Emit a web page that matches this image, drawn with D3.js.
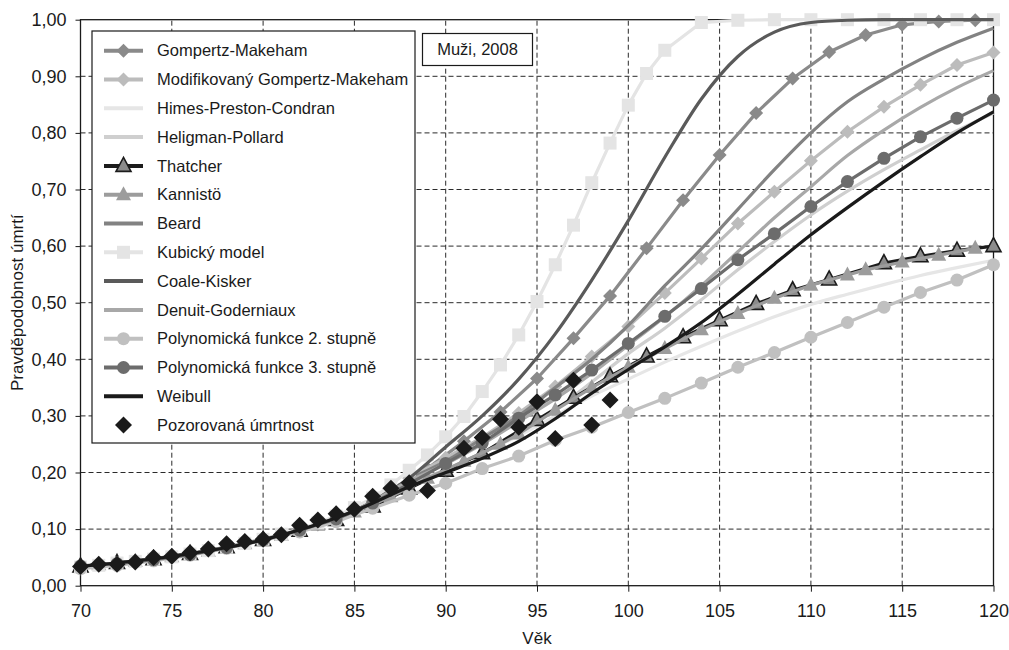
<!DOCTYPE html>
<html>
<head>
<meta charset="utf-8">
<script src="https://cdn.jsdelivr.net/npm/d3@7"></script>
<style>
  html, body { margin: 0; padding: 0; background: #fff; }
  svg { display: block; font-family: "Liberation Sans", Arial, sans-serif; }
</style>
</head>
<body>
<svg id="chart" width="1009" height="650"></svg>
<script>
// ---- data: probability of death by age, men, 2008 ----
const xTicks = [70, 75, 80, 85, 90, 95, 100, 105, 110, 115, 120];
const yTicks = [0, 0.1, 0.2, 0.3, 0.4, 0.5, 0.6, 0.7, 0.8, 0.9, 1.0];

// smooth model curves (no markers) share these ages
const lineAges = [70, 75, 80, 85, 88, 90, 92, 94, 96, 98, 100, 102, 104, 106, 108, 110, 112, 114, 116, 118, 120];
const himesPrestonCondran = [0.034, 0.052, 0.081, 0.132, 0.180, 0.205, 0.235, 0.265, 0.300, 0.335, 0.365, 0.395, 0.423, 0.450, 0.475, 0.497, 0.515, 0.532, 0.548, 0.562, 0.575];
const heligmanPollard = [0.034, 0.052, 0.081, 0.132, 0.180, 0.205, 0.235, 0.270, 0.310, 0.360, 0.410, 0.455, 0.505, 0.558, 0.608, 0.655, 0.697, 0.735, 0.770, 0.804, 0.835];
const beard = [0.034, 0.052, 0.081, 0.132, 0.188, 0.220, 0.260, 0.300, 0.350, 0.400, 0.460, 0.530, 0.595, 0.665, 0.735, 0.800, 0.855, 0.895, 0.930, 0.960, 0.985];
const coaleKisker = [0.034, 0.052, 0.081, 0.132, 0.190, 0.245, 0.300, 0.365, 0.445, 0.540, 0.645, 0.757, 0.860, 0.935, 0.978, 0.995, 0.999, 1.0, 1.0, 1.0, 1.0];
const denuitGoderniaux = [0.034, 0.052, 0.081, 0.132, 0.185, 0.215, 0.250, 0.290, 0.330, 0.375, 0.425, 0.475, 0.530, 0.590, 0.650, 0.705, 0.760, 0.805, 0.845, 0.880, 0.910];
const weibull = [0.034, 0.052, 0.081, 0.132, 0.175, 0.200, 0.225, 0.255, 0.295, 0.340, 0.382, 0.422, 0.465, 0.515, 0.568, 0.620, 0.668, 0.714, 0.758, 0.800, 0.837];

// model curves with markers
const gmAges = [71, 73, 75, 77, 79, 81, 83, 85, 87, 89, 91, 93, 95, 97, 99, 101, 103, 105, 107, 109, 111, 113, 115, 117, 119];
const gompertzMakeham = [0.037, 0.044, 0.052, 0.062, 0.075, 0.090, 0.108, 0.132, 0.165, 0.207, 0.255, 0.307, 0.366, 0.437, 0.512, 0.596, 0.681, 0.761, 0.835, 0.896, 0.943, 0.973, 0.991, 0.997, 0.999];

const evenAges = [70, 72, 74, 76, 78, 80, 82, 84, 86, 88, 90, 92, 94, 96, 98, 100, 102, 104, 106, 108, 110, 112, 114, 116, 118, 120];
const modGompertzMakeham = [0.034, 0.039, 0.046, 0.056, 0.068, 0.081, 0.098, 0.118, 0.146, 0.190, 0.226, 0.262, 0.305, 0.352, 0.405, 0.458, 0.517, 0.578, 0.640, 0.696, 0.751, 0.802, 0.846, 0.885, 0.920, 0.942];
const poly2 = [0.030, 0.036, 0.044, 0.054, 0.066, 0.080, 0.095, 0.113, 0.137, 0.160, 0.181, 0.207, 0.229, 0.257, 0.280, 0.306, 0.331, 0.358, 0.386, 0.412, 0.439, 0.465, 0.492, 0.518, 0.540, 0.567];
const poly3 = [0.035, 0.039, 0.046, 0.055, 0.067, 0.081, 0.098, 0.118, 0.146, 0.180, 0.216, 0.252, 0.296, 0.337, 0.381, 0.428, 0.476, 0.525, 0.576, 0.622, 0.670, 0.714, 0.755, 0.793, 0.826, 0.858];

const thatcherAges = [70, 72, 74, 76, 78, 80, 82, 84, 86, 88, 90, 92, 95, 97, 99, 101, 103, 105, 107, 109, 111, 114, 116, 118, 120];
const thatcher = [0.034, 0.040, 0.047, 0.056, 0.068, 0.081, 0.097, 0.116, 0.140, 0.172, 0.203, 0.234, 0.293, 0.332, 0.370, 0.405, 0.439, 0.469, 0.498, 0.522, 0.541, 0.570, 0.582, 0.592, 0.600];

const kannistoAges = [71, 73, 75, 77, 79, 81, 83, 85, 87, 89, 91, 93, 94, 96, 98, 100, 102, 104, 106, 108, 110, 112, 113, 115, 117, 119];
const kannisto = [0.037, 0.043, 0.051, 0.061, 0.074, 0.089, 0.107, 0.130, 0.157, 0.190, 0.220, 0.250, 0.268, 0.310, 0.350, 0.386, 0.419, 0.452, 0.481, 0.508, 0.531, 0.549, 0.558, 0.572, 0.584, 0.596];

const cubicAges = [70, 71, 72, 73, 74, 75, 76, 77, 78, 79, 80, 81, 82, 83, 84, 85, 86, 87, 88, 89, 90, 91, 92, 93, 94, 95, 96, 97, 98, 99, 100, 101, 102, 104, 106, 108, 110, 112, 114, 116, 118, 120];
const cubicModel = [0.033, 0.036, 0.040, 0.043, 0.047, 0.051, 0.056, 0.062, 0.068, 0.075, 0.082, 0.091, 0.100, 0.111, 0.123, 0.138, 0.155, 0.178, 0.204, 0.231, 0.263, 0.299, 0.343, 0.390, 0.443, 0.502, 0.567, 0.637, 0.712, 0.782, 0.849, 0.905, 0.946, 0.995, 0.999, 1.0, 1.0, 1.0, 1.0, 1.0, 1.0, 1.0];

// observed mortality (no value at 90)
const observedAges = [70, 71, 72, 73, 74, 75, 76, 77, 78, 79, 80, 81, 82, 83, 84, 85, 86, 87, 88, 89, 91, 92, 93, 94, 95, 96, 97, 98, 99];
const observed = [0.034, 0.038, 0.038, 0.042, 0.050, 0.052, 0.058, 0.065, 0.074, 0.078, 0.082, 0.090, 0.107, 0.116, 0.127, 0.135, 0.158, 0.172, 0.182, 0.168, 0.243, 0.262, 0.294, 0.280, 0.325, 0.260, 0.363, 0.284, 0.328];

// ---- series definitions (legend order = drawing order) ----
const series = [
  { name: "Gompertz-Makeham", ages: gmAges, values: gompertzMakeham, color: "#8a8a8a", marker: "diamond", mfill: "#8a8a8a", smooth: false },
  { name: "Modifikovaný Gompertz-Makeham", ages: evenAges, values: modGompertzMakeham, color: "#bcbcbc", marker: "diamond", mfill: "#bcbcbc", smooth: false },
  { name: "Himes-Preston-Condran", ages: lineAges, values: himesPrestonCondran, color: "#e6e6e6", smooth: true },
  { name: "Heligman-Pollard", ages: lineAges, values: heligmanPollard, color: "#cfcfcf", smooth: true },
  { name: "Thatcher", ages: thatcherAges, values: thatcher, color: "#1c1c1c", marker: "triangle", mfill: "#8c8c8c", mstroke: "#1c1c1c", smooth: false },
  { name: "Kannistö", ages: kannistoAges, values: kannisto, color: "#9c9c9c", marker: "triangle", mfill: "#9c9c9c", smooth: false },
  { name: "Beard", ages: lineAges, values: beard, color: "#828282", smooth: true },
  { name: "Kubický model", ages: cubicAges, values: cubicModel, color: "#e4e4e4", marker: "square", mfill: "#e4e4e4", smooth: false },
  { name: "Coale-Kisker", ages: lineAges, values: coaleKisker, color: "#5a5a5a", smooth: true },
  { name: "Denuit-Goderniaux", ages: lineAges, values: denuitGoderniaux, color: "#a8a8a8", smooth: true },
  { name: "Polynomická funkce 2. stupně", ages: evenAges, values: poly2, color: "#c0c0c0", marker: "circle", mfill: "#c0c0c0", smooth: false },
  { name: "Polynomická funkce 3. stupně", ages: evenAges, values: poly3, color: "#6c6c6c", marker: "circle", mfill: "#6c6c6c", smooth: false },
  { name: "Weibull", ages: lineAges, values: weibull, color: "#1a1a1a", smooth: true },
  { name: "Pozorovaná úmrtnost", ages: observedAges, values: observed, color: null, marker: "bigdiamond", mfill: "#1a1a1a", smooth: false }
];

// ---- layout ----
const svg = d3.select("#chart");
const x = d3.scaleLinear().domain([70, 120]).range([80.5, 993.5]);
const y = d3.scaleLinear().domain([0, 1]).range([585.7, 19.7]);

function markerPath(kind) {
  switch (kind) {
    case "diamond": return "M0,-7L7,0L0,7L-7,0Z";
    case "bigdiamond": return "M0,-8.5L8.5,0L0,8.5L-8.5,0Z";
    case "square": return "M-6.5,-6.5H6.5V6.5H-6.5Z";
    case "triangle": return "M0,-8.5L7.5,5.5L-7.5,5.5Z";
    case "circle": return d3.symbol(d3.symbolCircle, Math.PI * 6.5 * 6.5)();
  }
  return "";
}

// grid
const grid = svg.append("g").attr("stroke", "#2a2a2a").attr("stroke-width", 1).attr("stroke-dasharray", "5,3");
xTicks.slice(1, -1).forEach(t => {
  grid.append("line").attr("x1", x(t)).attr("x2", x(t)).attr("y1", y(0)).attr("y2", y(1));
});
yTicks.slice(1, -1).forEach(t => {
  grid.append("line").attr("x1", x(70)).attr("x2", x(120)).attr("y1", y(t)).attr("y2", y(t));
});

// plot frame
svg.append("rect")
  .attr("x", x(70)).attr("y", y(1))
  .attr("width", x(120) - x(70)).attr("height", y(0) - y(1))
  .attr("fill", "none").attr("stroke", "#1a1a1a").attr("stroke-width", 1.3);

// axes
const fmt = d => d.toFixed(2).replace(".", ",");
const yAxis = svg.append("g").attr("transform", `translate(${x(70)},0)`)
  .call(d3.axisLeft(y).tickValues(yTicks).tickFormat(fmt).tickSize(5).tickPadding(9));
const xAxis = svg.append("g").attr("transform", `translate(0,${y(0)})`)
  .call(d3.axisBottom(x).tickValues(xTicks).tickFormat(d3.format("d")).tickSize(6).tickPadding(13));
[yAxis, xAxis].forEach(a => {
  a.select(".domain").remove();
  a.selectAll(".tick line").attr("stroke", "#1a1a1a");
  a.selectAll(".tick text").attr("fill", "#1a1a1a").style("font-size", "18px").style("font-family", "Liberation Sans, Arial, sans-serif");
});

svg.append("text").attr("x", (x(70) + x(120)) / 2).attr("y", 644)
  .attr("text-anchor", "middle").attr("fill", "#1a1a1a").style("font-size", "17px").text("Věk");
svg.append("text").attr("transform", `translate(23,${(y(0) + y(1)) / 2}) rotate(-90)`)
  .attr("text-anchor", "middle").attr("fill", "#1a1a1a").style("font-size", "17px").text("Pravděpodobnost úmrtí");

// series
const plot = svg.append("g");
series.forEach(s => {
  const pts = s.ages.map((a, i) => [a, s.values[i]]);
  const g = plot.append("g");
  if (s.color) {
    const line = d3.line().x(d => x(d[0])).y(d => y(d[1]))
      .curve(s.smooth ? d3.curveMonotoneX : d3.curveLinear);
    g.append("path").datum(pts).attr("d", line)
      .attr("fill", "none").attr("stroke", s.color).attr("stroke-width", 3.2)
      .attr("stroke-linejoin", "round");
  }
  if (s.marker) {
    g.selectAll("path.m").data(pts).join("path").attr("class", "m")
      .attr("transform", d => `translate(${x(d[0])},${y(d[1])})`)
      .attr("d", markerPath(s.marker))
      .attr("fill", s.mfill)
      .attr("stroke", s.mstroke || "none").attr("stroke-width", s.mstroke ? 1.6 : 0);
  }
});

// legend
const lg = svg.append("g");
lg.append("rect").attr("x", 92).attr("y", 31).attr("width", 323).attr("height", 412)
  .attr("fill", "#fff").attr("stroke", "#1a1a1a").attr("stroke-width", 1.2);
series.forEach((s, i) => {
  const cy = 50.7 + i * 28.8;
  const row = lg.append("g").attr("transform", `translate(0,${cy})`);
  if (s.color) {
    row.append("line").attr("x1", 104).attr("x2", 143).attr("y1", 0).attr("y2", 0)
      .attr("stroke", s.color).attr("stroke-width", 4);
  }
  if (s.marker) {
    row.append("path").attr("transform", "translate(123.5,0)").attr("d", markerPath(s.marker))
      .attr("fill", s.mfill).attr("stroke", s.mstroke || "none").attr("stroke-width", s.mstroke ? 1.6 : 0);
  }
  row.append("text").attr("x", 157).attr("y", 0).attr("dy", "0.35em")
    .attr("fill", "#1a1a1a").style("font-size", "16.5px").text(s.name);
});

// caption box
const cap = svg.append("g");
cap.append("rect").attr("x", 422.5).attr("y", 33.5).attr("width", 110).attr("height", 32)
  .attr("fill", "#fff").attr("stroke", "#1a1a1a").attr("stroke-width", 1.2);
cap.append("text").attr("x", 477.5).attr("y", 49.5).attr("dy", "0.35em").attr("text-anchor", "middle")
  .attr("fill", "#1a1a1a").style("font-size", "16.5px").text("Muži, 2008");
</script>
</body>
</html>
